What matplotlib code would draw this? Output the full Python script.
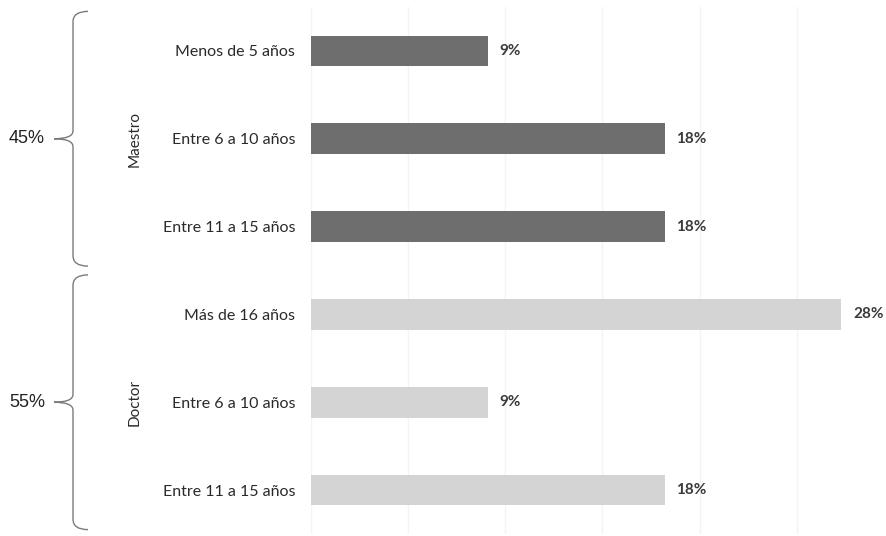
import matplotlib

matplotlib.use("Agg")
import matplotlib.pyplot as plt
from matplotlib.path import Path
from matplotlib.patches import PathPatch
from matplotlib.transforms import blended_transform_factory

# --------------------------------------------------
# data
# --------------------------------------------------
categories = [
    "Menos de 5 años",
    "Entre 6 a 10 años",
    "Entre 11 a 15 años",
    "Más de 16 años",
    "Entre 6 a 10 años",
    "Entre 11 a 15 años",
]
values = [9.1, 18.2, 18.2, 27.3, 9.1, 18.2]
value_labels = ["9%", "18%", "18%", "28%", "9%", "18%"]
groups = ["Maestro", "Doctor"]
group_sizes = [3, 3]
group_totals = ["45%", "55%"]
group_colors = ["#6e6e6e", "#d4d4d4"]

# --------------------------------------------------
# figure
# --------------------------------------------------
W, H = 886, 536
fig = plt.figure(figsize=(W / 100, H / 100), dpi=100)
fig.patch.set_facecolor("white")
ax = fig.add_axes([311 / W, 1 - 534 / H, (W - 311) / W, 527 / H])

colors = []
for c, n in zip(group_colors, group_sizes):
    colors += [c] * n

ypos = list(range(len(categories)))
ax.barh(ypos, values, height=0.35, color=colors, zorder=2)

for y, v, lab in zip(ypos, values, value_labels):
    ax.text(v + 0.6, y, lab, va="center", ha="left", fontsize=11,
            fontweight="bold", color="#3a3a3a", family="Lato")

ax.set_ylim(len(categories) - 0.5, -0.5)
ax.set_xlim(0, 29.6)
ax.set_yticks(ypos)
ax.set_yticklabels(categories, fontsize=11.5, family="Lato", color="#2a2a2a")
ax.tick_params(axis="y", length=0, pad=11.5)
ax.tick_params(axis="x", length=0, labelbottom=False)
ax.set_xticks([0, 5, 10, 15, 20, 25])
ax.grid(axis="x", color="#f4f4f4", lw=1, zorder=0)
for s in ax.spines.values():
    s.set_visible(False)

# --------------------------------------------------
# group labels and braces
# --------------------------------------------------
tr = blended_transform_factory(fig.transFigure, ax.transData)


def px(x):
    return x / W


start = 0
for name, n, total in zip(groups, group_sizes, group_totals):
    y0 = start - 0.45
    y1 = start + n - 1 + 0.45
    ym = (y0 + y1) / 2
    k = 0.12
    t = 0.09
    verts = [
        (px(88), y0), (px(73), y0), (px(73), y0 + k),
        (px(73), ym - t),
        (px(73), ym), (px(54), ym),
        (px(73), ym), (px(73), ym + t),
        (px(73), y1 - k),
        (px(73), y1), (px(88), y1),
    ]
    codes = [Path.MOVETO, Path.CURVE3, Path.CURVE3, Path.LINETO,
             Path.CURVE3, Path.CURVE3, Path.CURVE3, Path.CURVE3,
             Path.LINETO, Path.CURVE3, Path.CURVE3]
    fig.patches.append(PathPatch(Path(verts, codes), transform=tr,
                                 fill=False, ec="#7a7a7a", lw=1.0))
    fig.text(px(9), ym, total, transform=tr, ha="left", va="center",
             fontsize=13, family="Liberation Sans", color="#222222")
    fig.text(px(135), ym, name, transform=tr, ha="center", va="center",
             rotation=90, fontsize=11, family="Lato", color="#2a2a2a")
    start += n

fig.savefig("out.png", dpi=100)
